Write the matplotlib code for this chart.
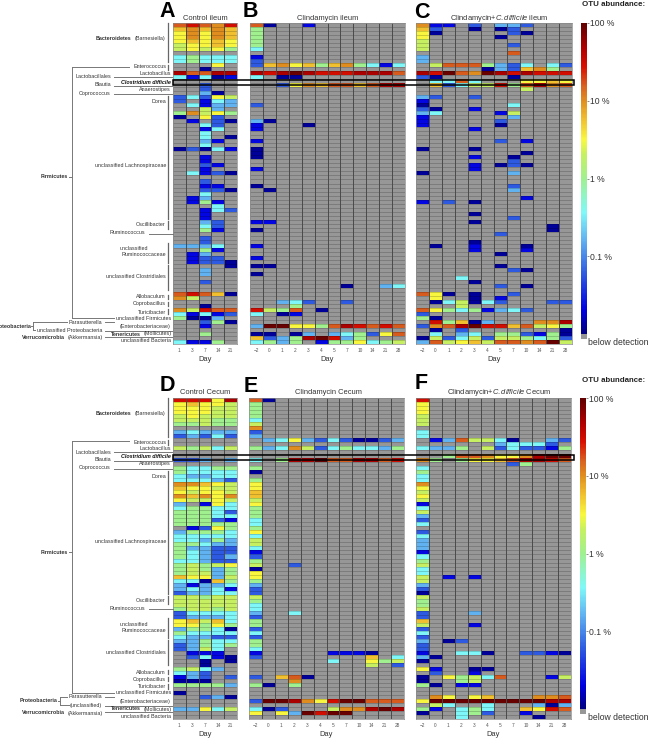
import numpy as np
import matplotlib
matplotlib.use("Agg")
import matplotlib.pyplot as plt
from matplotlib.colors import LinearSegmentedColormap, LogNorm
from matplotlib.cm import ScalarMappable
from matplotlib.lines import Line2D
from matplotlib.patches import Rectangle

plt.rcParams["font.family"] = ["Liberation Sans", "DejaVu Sans"]
plt.rcParams["mathtext.fontset"] = "custom"
plt.rcParams["mathtext.it"] = "Liberation Sans:italic"
plt.rcParams["mathtext.rm"] = "Liberation Sans"

W, H = 650, 738

# approx OTU abundance (%) for each letter, "." is below detection
LEVELS = {"a": 0.012, "b": 0.022, "c": 0.06, "d": 0.16, "e": 0.36, "f": 1.0, "g": 2.0,
          "h": 3.2, "i": 5.8, "j": 10, "k": 16, "l": 30, "m": 50, "n": 90}

DAYS_CTRL = ["1", "3", "7", "14", "21"]
DAYS_ABX = ["\u22122", "0", "1", "2", "3", "4", "5", "7", "10", "14", "21", "28"]

# one token per OTU row, top to bottom, short rows are padded with "."
CTRL_ILEUM = """
klkjl ijiji hjhji hjhji hihih ghhih ghghf . efeee efeee
...h. ..a.. mkkmm ebeab . ..c.. ..c.. ..da. cechg c.bed
.ebdd ..gd. fjghf a.hc. .b.ca ..ec. ..be. ..e.. ..e.a ..db.
..e.. acaeb . ..b.. ..b.. ..cb. ..b.. .ebca . ..c..
..bb. ..cca ..e.. .bd.. .bfb. ...e. ..bec ..b.. ..b.. ..dc.
..ec. ..fb. . ..c.. ..c.. ddde. ..fb. .bd.. .bcc. .bcca
....a ..d.. ..d.. . ..c.. . . klkia jg... .
..a.. jglkk ebebc faad. ..cfa ..b.. . ..f.. . ebbf.
""".split()

ABX_ILEUM = """
ka..b f f f f f e . b c
cijhifijfebe . mlmnmlllmmmk e.aa . ..chjikkikmm . . . .
c . . . da b...a b . . b
. a a a . . b . . .
a .a . . . . . . . bb
. a . . . b . . b .
aa . a . . .......a..de . . . ..dec..c
...f lgfk.a e.ab . . dnnhhfkmlklk . aa.ad.defchk icdfmnldf efdf.bffhefg
""".split()

CDIF_ILEUM = """
jbb.c.ddc ic..a.ac ha.....ca h.....a g g......c g .......k d d
.gkkkfdce.ec .....adcijf mlnkjnmlmlll ca.....a .eeke...hhih .icegglfkmjk ........g . dc..c b
a......e ca..b de....bg b......d b.....c b.....a ....b . . ......c.b
. a...a ........a ....b..a .......c ....b.aca ....b a......d . .
.......c .......d . ........b b.c.a . . ....a .......c ....a
..........a ..........a ......c . ....a .a..b...a ....b...b ......a . .
......a .......ca . ...e ....a ......c.a . kha.a..c .h..a.b .aegaec...cc
...g khfefbdec c fa .lfiad...jjm cjkmnllikghf .a.c.......a .e.de.ffcbfa agcegcggfefc dkghigkkjkng
""".split()

CTRL_CECUM = """
lllhm hihhg hhhgg hhhgg ghggg gggff ffgff . deddd cdcec
. . gfgeg . . ccd.d . feeff feeee
eddee eeedc jjihg ihhgg hghhg jijhj hgghg d.bhe effee fffec
fffee fffcb fffff .bchf dfffe eeeee eedfd ffedd fddcc fedcc
fedcd eedcc fgfgh fgfdf fggdf ihhdg eeaif dbdde dedeb cddee
ggfgg ggggg ggggg fggfg ceeee cddde higie hhfhf dffea feeee
eddcc ddfee cdfef cdge. .bbb. .ceba ..a.a ..a.. fged. edc..
bdc.c aaa.. ffffd . a.... ..cda . . ddheg . .
""".split()

ABX_CECUM = """
ka f f f f e g j c d
.dehdcecaacd . fdejgcefeedf . . e.fmmnkkmmkl . f a .
f h h i i g h f f f
e e f h e g g e b c
f g..c a h h f d c c g
f e e d..e c f f c e c
f f e b.....bbba c........i.e ......e..hfg .........g.c . . c.ika
...j fa.f . . . cnnmjhlnnkkk . eac...gjjmnm h.hdnlnn .
""".split()

CDIF_CECUM = """
l h h h g g g . e e
.bdkggea..dc ......deeec eddf.gceccbf . ..fkkjhhjmnn jf.fhhikmmlk .......cf e f e
e j h g h g b e g d
c e . c e d d d b e
f g e e g.b.b g d c a g
f f g c...d c i g...b c e c
d.ac c c b..eea..ccba da a . hb..aa .c..b a.hfgek...bg
a..fg fa.bb . . .jh.hi...jjk hnnnnnnnnnmm .ge..e...dad fb.efe..ihlk a..efc..b ...e.....a
""".split()

PANELS = [
    ("Control ileum", CTRL_ILEUM, DAYS_CTRL, (173, 23, 237, 344)),
    ("Clindamycin ileum", ABX_ILEUM, DAYS_ABX, (250, 23, 405, 344)),
    ("Clindamycin+$\\mathit{C{.}difficile}$ ileum", CDIF_ILEUM, DAYS_ABX, (416, 23, 572, 344)),
    ("Control Cecum", CTRL_CECUM, DAYS_CTRL, (173, 398, 237, 719)),
    ("Clindamycin Cecum", ABX_CECUM, DAYS_ABX, (249, 398, 404, 719)),
    ("Clindamycin+$\\mathit{C{.}difficile}$ Cecum", CDIF_CECUM, DAYS_ABX, (416, 398, 571, 719)),
]

CMAP_STOPS = [(0.0, "#000080"), (0.075, "#0000e0"), (0.2, "#3060e0"), (0.3, "#60b0f0"),
              (0.39, "#80f8f8"), (0.5, "#a0f090"), (0.58, "#c8f060"), (0.625, "#f8f840"),
              (0.69, "#f0c030"), (0.75, "#e09020"), (0.8, "#d86020"), (0.86, "#d81000"),
              (0.92, "#b00000"), (1.0, "#600000")]
GREY = "#979797"
DARK = "#4a4a4a"
TXT = "#333333"
LINE = "#777777"

cmap = LinearSegmentedColormap.from_list("otu", CMAP_STOPS, N=256)
cmap.set_bad(GREY)
cmap.set_under(GREY)
norm = LogNorm(vmin=0.01, vmax=100)


def to_matrix(rows, ncol):
    assert len(rows) == 80, len(rows)
    out = []
    for r in rows:
        assert len(r) <= ncol, r
        out.append([LEVELS.get(c, np.nan) for c in r.ljust(ncol, ".")])
    return np.ma.masked_invalid(np.array(out, dtype=float))


def px_axes(x0, y0, x1, y1):
    return fig.add_axes([x0 / W, 1 - y1 / H, (x1 - x0) / W, (y1 - y0) / H])


def label(x, y, s, ha="right", size=3.9, **kw):
    fig.text(x / W, 1 - y / H, s, ha=ha, va="center", fontsize=size, color=kw.pop("color", TXT), **kw)


def hline(x0, x1, y, lw=0.7, color=LINE):
    fig.add_artist(Line2D([x0 / W, x1 / W], [1 - y / H, 1 - y / H], color=color, lw=lw))


def vline(x, y0, y1, lw=0.7, color=LINE):
    fig.add_artist(Line2D([x / W, x / W], [1 - y0 / H, 1 - y1 / H], color=color, lw=lw))


fig = plt.figure(figsize=(W / 100, H / 100), dpi=100)

for title, rows, days, (x0, y0, x1, y1) in PANELS:
    ax = px_axes(x0, y0, x1, y1)
    z = to_matrix(rows, len(days))
    ax.pcolormesh(z, cmap=cmap, norm=norm)
    ax.hlines(np.arange(1, 80), 0, len(days), color="black", alpha=0.28, lw=0.45)
    ax.vlines(np.arange(1, len(days)), 0, 80, color=DARK, lw=0.7)
    ax.set_xlim(0, len(days))
    ax.set_ylim(80, 0)
    ax.set_yticks([])
    ax.set_xticks(np.arange(len(days)) + 0.5)
    ax.set_xticklabels(days, fontsize=3.4, color="#555555")
    ax.tick_params(axis="x", length=0, pad=2.6)
    ax.set_xlabel("Day", fontsize=5.4, color=TXT, labelpad=2.4)
    for s in ax.spines.values():
        s.set_color("#888888")
        s.set_linewidth(0.5)
    cx = {173: 205, 250: 328, 249: 328, 416: 499}[x0]
    label(cx, y0 - 5, title, ha="center", size=5.4)

# panel letters
for s, x, y in [("A", 159, 17), ("B", 243, 17), ("C", 414, 17.5),
                ("D", 160, 391), ("E", 244, 392), ("F", 415, 389)]:
    fig.text(x / W, 1 - y / H, s, fontsize=15.5, fontweight="bold", color="black", ha="left", va="baseline")


def taxa_labels(o, cecum):
    label(96, 38.5 + o, "Bacteroidetes", ha="left", fontweight="bold")
    label(135, 38.5 + o, "(Barnesiella)", ha="left")
    for y, s in [(67, "Enterococcus"), (101.5, "Dorea"), (166, "unclassified Lachnospiraceae"),
                 (225, "Oscillibacter"), (255, "Ruminococcaceae"), (277, "unclassified Clostridiales"),
                 (297, "Allobaculum"), (304, "Coprobacillus"), (312, "Turicibacter")]:
        label(166, y + o, s)
    label(120, 249 + o, "unclassified", ha="left")
    for y, s in [(73.5, "Lactobacillus"), (89, "Anaerostipes"), (318, "unclassified Firmicutes"),
                 (326, "(Enterobacteriaceae)"), (341, "unclassified Bacteria")]:
        label(171, y + o, s)
    label(171, 82 + o, "Clostridium difficile", fontweight="bold", style="italic", color="#111111")
    for y, s in [(77, "Lactobacillales"), (85, "Blautia"), (93, "Coprococcus")]:
        label(111, y + o, s)
    label(145, 233 + o, "Ruminococcus")
    label(68, 177 + o, "Firmicutes", fontweight="bold")
    label(102, 322 + o, "Parasutterella")
    label(111, 334 + o, "Tenericutes", ha="left", fontweight="bold")
    label(144, 334 + o, "(Mollicutes)", ha="left")
    label(22, 338 + o, "Verrucomicrobia", ha="left", fontweight="bold")
    label(68, 338 + o, "(Akkermansia)", ha="left")

    for a, b in [(23, 62), (65, 70), (96, 106), (107, 219), (221, 229), (243, 263),
                 (265, 290), (295, 299), (302, 306), (309, 314)]:
        vline(168, a + o, b + o, lw=0.9, color="#666666")

    vline(71.5, 66.5 + o, 318 + o)
    hline(71.5, 129, 66.5 + o)
    hline(69, 71.5, 177 + o)
    hline(71.5, 114, 318 + o)
    hline(114, 172, 77 + o)
    hline(114, 172, 85.5 + o)
    hline(114, 172, 93.5 + o)
    hline(149, 173, 233.5 + o)
    hline(105, 172, 330.5 + o)
    hline(105, 172, 337 + o)
    hline(105, 114, 322 + o)
    if cecum:
        label(58, 326 + o, "Proteobacteria", fontweight="bold")
        label(102, 330 + o, "(unclassified)")
        vline(60, 322 + o, 330 + o)
        hline(58, 60, 326 + o)
        hline(60, 67, 322 + o)
        hline(60, 69, 330 + o)
    else:
        label(31, 326 + o, "Proteobacteria", fontweight="bold")
        label(102, 330 + o, "unclassified Proteobacteria")
        vline(33, 322 + o, 330 + o)
        hline(31, 33, 326 + o)
        hline(33, 67, 322 + o)
        hline(33, 35, 330 + o)


taxa_labels(0, False)
taxa_labels(375, True)

# C. difficile highlight box
for y0 in (80, 455):
    fig.add_artist(Rectangle((172.5 / W, 1 - (y0 + 4.5) / H), 401.5 / W, 4.5 / H, transform=fig.transFigure,
                             fill=False, edgecolor="black", lw=1.1))

# abundance colour bars
for y0, x0 in ((23, 581), (398, 580)):
    cax = px_axes(x0, y0, x0 + 6, y0 + 316)
    cb = fig.colorbar(ScalarMappable(norm=norm, cmap=cmap), cax=cax, extend="min",
                      extendrect=True, extendfrac=5 / 316)
    cb.set_ticks([100, 10, 1, 0.1], labels=["100 %", "10 %", "1 %", "0.1 %"])
    cb.minorticks_off()
    cb.outline.set_visible(False)
    cax.tick_params(length=1.2, width=0.4, pad=0.8, labelsize=6.2, labelcolor=TXT, color=TXT)
    label(588, y0 + 320, "below detection", ha="left", size=6.2)
    label(582, y0 - 18, "OTU abundance:", ha="left", size=5.7, fontweight="bold", color="#222222")

fig.savefig("out.png", dpi=100)
